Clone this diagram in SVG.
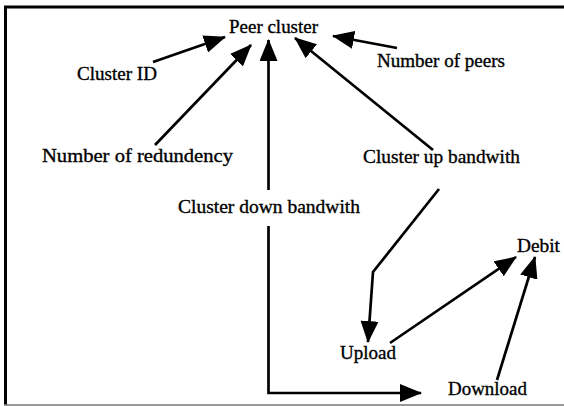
<svg xmlns="http://www.w3.org/2000/svg" width="564" height="406" viewBox="0 0 564 406">
<style>
.t{font-family:"Liberation Serif","Times New Roman",serif;font-size:19px;fill:#000;stroke:#000;stroke-width:0.35}
.c{fill:none;stroke:#000;stroke-width:2.7}
</style>
<defs>
<marker id="ah" markerUnits="userSpaceOnUse" markerWidth="22" markerHeight="18" refX="21" refY="9" orient="auto">
<path d="M0,0 L22,9 L0,18 z" fill="#000"/>
</marker>
</defs>
<rect width="564" height="406" fill="#fff"/>
<g id="frame">
<line x1="4" y1="7" x2="564" y2="7" stroke="#000" stroke-width="3"/>
<line x1="5.5" y1="6" x2="5.5" y2="405" stroke="#000" stroke-width="3"/>
<line x1="4" y1="405" x2="564" y2="405" stroke="#777" stroke-width="1.5"/>
</g>
<g id="connectors">
<line class="c" x1="153" y1="62" x2="225" y2="37" marker-end="url(#ah)"/>
<line class="c" x1="155" y1="145" x2="251" y2="45" marker-end="url(#ah)"/>
<line class="c" x1="397" y1="48" x2="333" y2="36" marker-end="url(#ah)"/>
<line class="c" x1="433" y1="150" x2="295" y2="38" marker-end="url(#ah)"/>
<line class="c" x1="268.5" y1="190" x2="268.5" y2="40" marker-end="url(#ah)"/>
<polyline class="c" points="268.5,226 268.5,393 421,393" marker-end="url(#ah)"/>
<polyline class="c" points="439,189 373,272 368,342" marker-end="url(#ah)"/>
<line class="c" x1="390" y1="343" x2="516" y2="257" marker-end="url(#ah)"/>
<line class="c" x1="497" y1="380" x2="535" y2="257" marker-end="url(#ah)"/>
</g>
<g id="peer-cluster"><text class="t" x="229" y="33" textLength="89" lengthAdjust="spacingAndGlyphs">Peer cluster</text></g>
<g id="cluster-id"><text class="t" x="77" y="80" textLength="80" lengthAdjust="spacingAndGlyphs">Cluster ID</text></g>
<g id="number-of-peers"><text class="t" x="377" y="67" textLength="128" lengthAdjust="spacingAndGlyphs">Number of peers</text></g>
<g id="number-of-redundency"><text class="t" x="42" y="162" textLength="191" lengthAdjust="spacingAndGlyphs">Number of redundency</text></g>
<g id="cluster-up-bandwith"><text class="t" x="363" y="163" textLength="157" lengthAdjust="spacingAndGlyphs">Cluster up bandwith</text></g>
<g id="cluster-down-bandwith"><text class="t" x="178" y="213" textLength="182" lengthAdjust="spacingAndGlyphs">Cluster down bandwith</text></g>
<g id="debit"><text class="t" x="517" y="252" textLength="43" lengthAdjust="spacingAndGlyphs">Debit</text></g>
<g id="upload"><text class="t" x="340" y="359" textLength="56" lengthAdjust="spacingAndGlyphs">Upload</text></g>
<g id="download"><text class="t" x="448" y="395" textLength="79" lengthAdjust="spacingAndGlyphs">Download</text></g>
</svg>
